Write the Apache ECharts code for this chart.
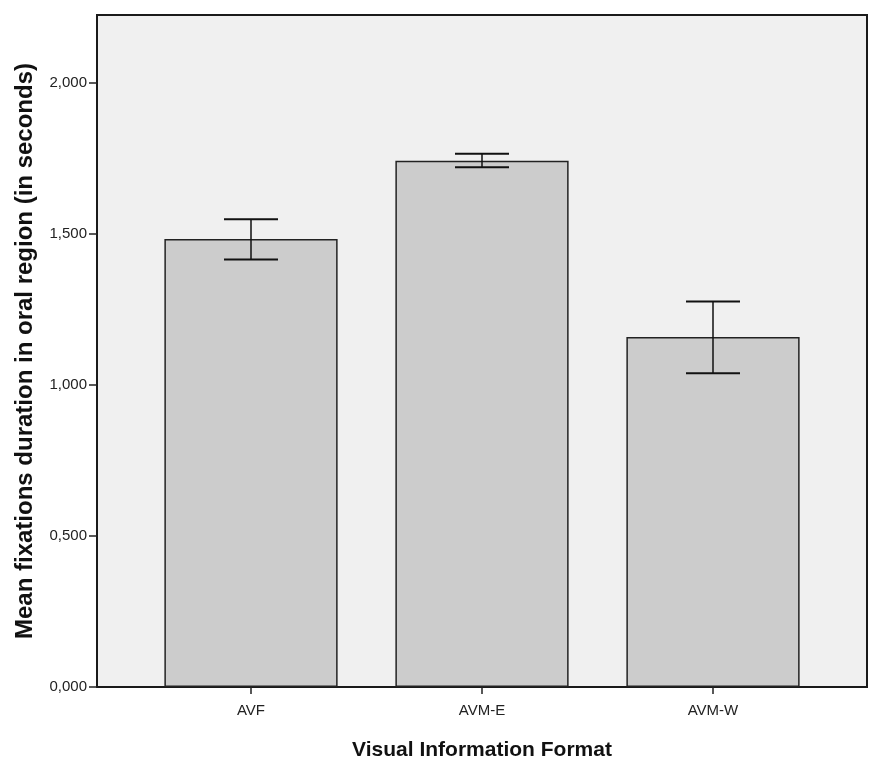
<!DOCTYPE html>
<html>
<head>
<meta charset="utf-8">
<script src="https://cdn.jsdelivr.net/npm/echarts@6/dist/echarts.min.js"></script>
<style>
html,body{margin:0;padding:0;background:#fff;}
#chart{width:872px;height:761px;}
</style>
</head>
<body>
<div id="chart"></div>
<script>
const categories = ['AVF', 'AVM-E', 'AVM-W'];
const means = [1.482, 1.741, 1.158];
const upperCI = [1.547, 1.764, 1.275];
const lowerCI = [1.414, 1.719, 1.038];
const yTicks = [0, 0.5, 1.0, 1.5, 2.0];
const yMax = 2.223;

const FONT = '"Liberation Sans", Arial, sans-serif';
const chart = echarts.init(document.getElementById('chart'), null, {renderer: 'canvas'});

const errData = categories.map((c, i) => [i, lowerCI[i], upperCI[i]]);

chart.setOption({
  animation: false,
  grid: [
    {left: 97, right: 5, top: 15, bottom: 74, show: true, backgroundColor: '#f0f0f0', borderColor: '#1a1a1a', borderWidth: 2, containLabel: false, outerBoundsMode: 'none'},
    {left: 135.5, right: 43.5, top: 15, bottom: 74, containLabel: false, outerBoundsMode: 'none'}
  ],
  xAxis: [
    {gridIndex: 0, type: 'value', show: false, min: 0, max: 1},
    {
      gridIndex: 1, type: 'category', data: categories,
      name: 'Visual Information Format', nameLocation: 'middle', nameGap: 53,
      nameTextStyle: {fontFamily: FONT, fontWeight: 'bold', fontSize: 21, color: '#111', verticalAlign: 'top'},
      axisLine: {show: false},
      axisTick: {show: true, alignWithLabel: true, length: 7, lineStyle: {color: '#222', width: 1.5}},
      axisLabel: {fontFamily: FONT, fontSize: 15, color: '#222', margin: 16},
      splitLine: {show: false}
    }
  ],
  yAxis: [
    {
      gridIndex: 0, type: 'value', min: 0, max: yMax, interval: 0.5,
      name: 'Mean fixations duration in oral region (in seconds)', nameLocation: 'middle', nameGap: 60,
      nameTextStyle: {fontFamily: FONT, fontWeight: 'bold', fontSize: 24, color: '#111'},
      axisLine: {show: false},
      axisTick: {show: true, length: 8, customValues: yTicks, lineStyle: {color: '#222', width: 1.5}},
      axisLabel: {fontFamily: FONT, fontSize: 15, color: '#222', margin: 10, customValues: yTicks,
        formatter: v => v.toFixed(3).replace('.', ',')},
      splitLine: {show: false}
    },
    {gridIndex: 1, type: 'value', min: 0, max: yMax, interval: 0.5, show: false, splitLine: {show: false}}
  ],
  series: [
    {
      type: 'bar', xAxisIndex: 1, yAxisIndex: 1, data: means, barWidth: '75%',
      itemStyle: {color: '#cccccc', borderColor: '#222', borderWidth: 1.5}
    },
    {
      type: 'custom', xAxisIndex: 1, yAxisIndex: 1, data: errData, z: 5,
      renderItem: function (params, api) {
        const x = api.value(0);
        const lo = api.coord([x, api.value(1)]);
        const hi = api.coord([x, api.value(2)]);
        const hw = 27;
        const st = {stroke: '#111', lineWidth: 2};
        return {
          type: 'group',
          children: [
            {type: 'line', shape: {x1: lo[0], y1: lo[1], x2: hi[0], y2: hi[1]}, style: {stroke: '#111', lineWidth: 1.5}},
            {type: 'line', shape: {x1: hi[0] - hw, y1: hi[1], x2: hi[0] + hw, y2: hi[1]}, style: st},
            {type: 'line', shape: {x1: lo[0] - hw, y1: lo[1], x2: lo[0] + hw, y2: lo[1]}, style: st}
          ]
        };
      }
    }
  ]
});
</script>
</body>
</html>
